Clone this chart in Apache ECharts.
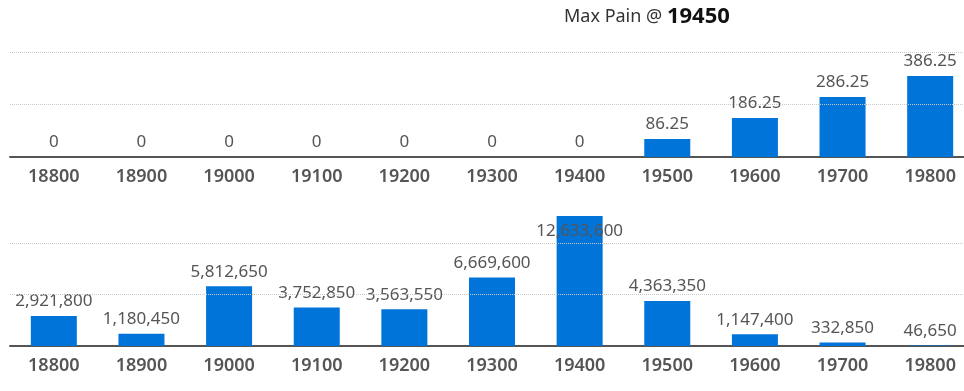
<!DOCTYPE html>
<html>
<head>
<meta charset="utf-8">
<script src="https://cdn.jsdelivr.net/npm/echarts@6/dist/echarts.min.js"></script>
<style>html,body{margin:0;padding:0;background:#fff}#c{width:964px;height:391px}</style>
</head>
<body>
<div id="c"></div>
<script>
var strikes = ['18800','18900','19000','19100','19200','19300','19400','19500','19600','19700','19800'];
var topValues = [0, 0, 0, 0, 0, 0, 0, 86.25, 186.25, 286.25, 386.25];
var bottomValues = [2921800, 1180450, 5812650, 3752850, 3563550, 6669600, 12633600, 4363350, 1147400, 332850, 46650];
var topGridValues = [250, 500];
var bottomGridValues = [5000000, 10000000];
var maxPainStrike = '19450';

var chart = echarts.init(document.getElementById('c'), null, {renderer: 'canvas'});
var FONT = '"Noto Sans", "Open Sans", sans-serif';
var BAR = '#0074D9';

function xAxis(idx) {
  return {
    type: 'category', gridIndex: idx, data: strikes,
    axisLine: {lineStyle: {color: '#555', width: 2}},
    axisTick: {show: false},
    axisLabel: {color: '#555', fontSize: 18, fontWeight: 600, fontFamily: FONT, margin: 11}
  };
}
function yAxis(idx, max) {
  return {
    type: 'value', gridIndex: idx, min: 0, max: max,
    show: false, splitLine: {show: false}
  };
}
function gridMark(vals) {
  return {
    silent: true, symbol: 'none', animation: false,
    label: {show: false},
    lineStyle: {type: 'dotted', color: '#c8c8c8', width: 1},
    data: vals.map(function (v) { return {yAxis: v}; })
  };
}
var bottomMax = Math.max.apply(null, bottomValues);
var bottomData = bottomValues.map(function (v) {
  if (v === bottomMax) {
    return {value: v, label: {position: 'insideTop', distance: 7}};
  }
  return v;
});

chart.setOption({
  animation: false,
  backgroundColor: '#ffffff',
  title: {
    text: '{a|Max Pain @ }{b|' + maxPainStrike + '}',
    left: 559, top: 1,
    textStyle: {
      fontWeight: 'normal',
      rich: {
        a: {fontSize: 18, fontWeight: 'normal', color: '#333', fontFamily: FONT},
        b: {fontSize: 22, fontWeight: 'bold', color: '#111', fontFamily: FONT}
      }
    }
  },
  grid: [
    {left: 10, width: 964, top: 52, bottom: 234, outerBoundsMode: 'none'},
    {left: 10, width: 964, top: 202, bottom: 45, outerBoundsMode: 'none'}
  ],
  xAxis: [xAxis(0), xAxis(1)],
  yAxis: [yAxis(0, 500), yAxis(1, 14000000)],
  series: [
    {
      type: 'bar', xAxisIndex: 0, yAxisIndex: 0, data: topValues,
      barWidth: '52.5%',
      itemStyle: {color: BAR},
      label: {show: true, position: 'top', distance: 6, color: '#555', fontSize: 17, fontFamily: FONT,
        formatter: function (p) { return String(p.value); }},
      markLine: gridMark(topGridValues)
    },
    {
      type: 'bar', xAxisIndex: 1, yAxisIndex: 1, data: bottomData,
      barWidth: '52.5%',
      itemStyle: {color: BAR},
      label: {show: true, position: 'top', distance: 6, color: '#555', fontSize: 17, fontFamily: FONT,
        formatter: function (p) { return Number(p.value).toLocaleString('en-US'); }},
      markLine: gridMark(bottomGridValues)
    }
  ]
});
</script>
</body>
</html>
